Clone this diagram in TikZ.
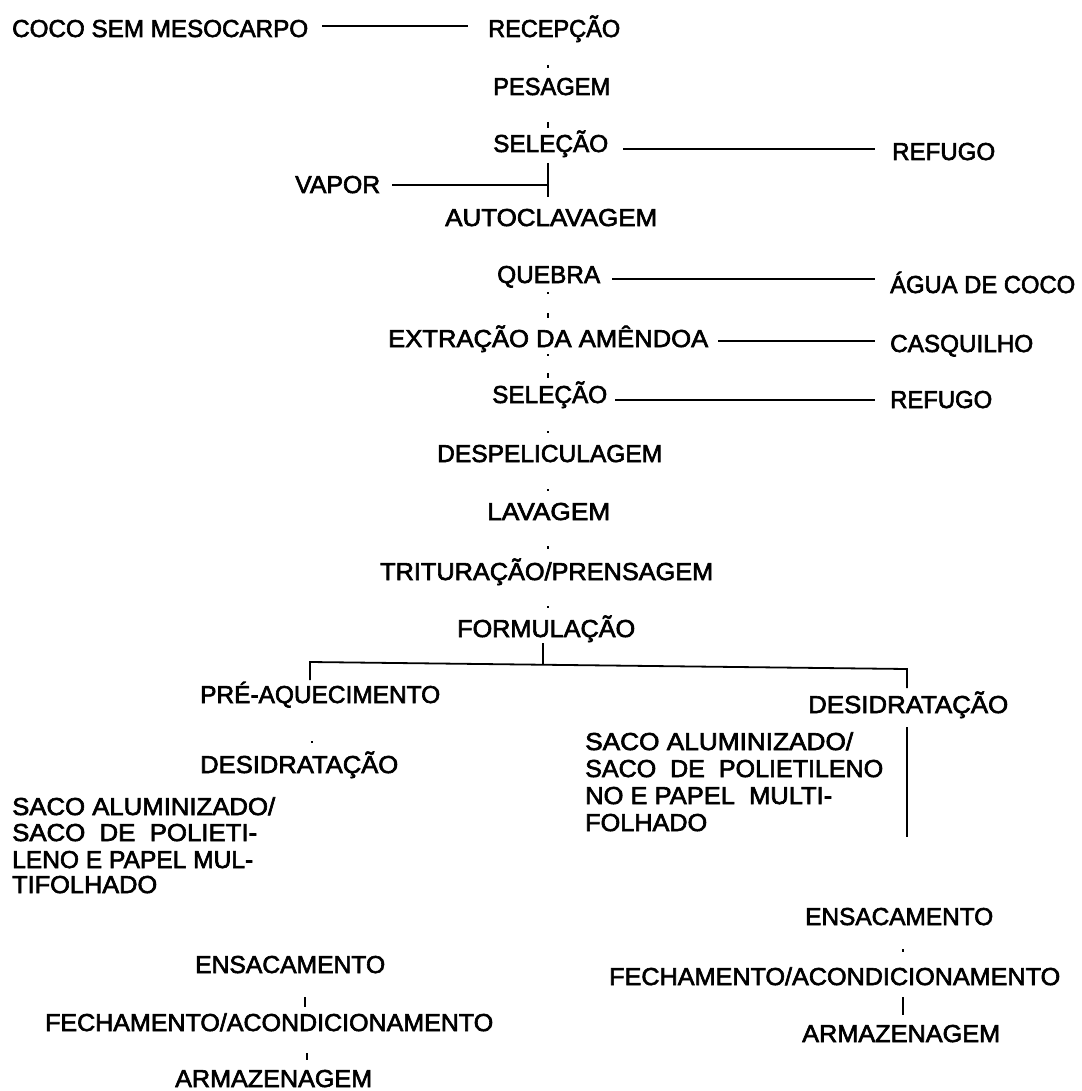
\documentclass[tikz,border=0pt]{standalone}
\usepackage{fontspec}
\setmainfont{Liberation Sans}[FakeBold=2.5]
\usepackage{graphicx}
\newcommand\W[2]{\resizebox{#1pt}{\height}{#2}}
\begin{document}
\begin{tikzpicture}[x=1pt,y=-1pt,
  lbl/.style={inner sep=0pt, anchor=base west, font=\fontsize{24.5}{27}\selectfont},
  ln/.style={line width=1.8pt},
  tk/.style={line width=1.6pt},
  bar/.style={line width=2.5pt}]
\useasboundingbox[fill=white] (0,0) rectangle (1081,1091);
% main column
\node[lbl] (coco)  at (12,37)   {\W{296}{COCO SEM MESOCARPO}};
\node[lbl] (recep) at (488,37)  {\W{132}{RECEPÇÃO}};
\node[lbl] (pes)   at (493,95)  {\W{117}{PESAGEM}};
\node[lbl] (sel1)  at (493,152) {\W{115}{SELEÇÃO}};
\node[lbl] (ref1)  at (892,160) {\W{103}{REFUGO}};
\node[lbl] (vapor) at (295,193) {\W{85}{VAPOR}};
\node[lbl] (auto)  at (445,226) {\W{212}{AUTOCLAVAGEM}};
\node[lbl] (queb)  at (497,283) {\W{103}{QUEBRA}};
\node[lbl] (agua)  at (890,293) {\W{185}{ÁGUA DE COCO}};
\node[lbl] (extr)  at (388,347) {\W{320}{EXTRAÇÃO DA AMÊNDOA}};
\node[lbl] (casq)  at (890,352) {\W{143}{CASQUILHO}};
\node[lbl] (sel2)  at (492,403) {\W{115}{SELEÇÃO}};
\node[lbl] (ref2)  at (890,408) {\W{102}{REFUGO}};
\node[lbl] (desp)  at (437,462) {\W{225}{DESPELICULAGEM}};
\node[lbl] (lav)   at (487,520) {\W{123}{LAVAGEM}};
\node[lbl] (trit)  at (380,580) {\W{333}{TRITURAÇÃO/PRENSAGEM}};
\node[lbl] (form)  at (457,637) {\W{178}{FORMULAÇÃO}};
% left branch
\node[lbl] (preaq) at (200,703) {\W{240}{PRÉ-AQUECIMENTO}};
\node[lbl] (desL)  at (200,773) {\W{198}{DESIDRATAÇÃO}};
\node[lbl] (sacoL1) at (12,815) {\W{263}{SACO ALUMINIZADO/}};
\node[lbl] (sacoL2) at (12,841) {\W{245}{SACO\ \ DE\ \ POLIETI-}};
\node[lbl] (sacoL3) at (12,868) {\W{241}{LENO E PAPEL MUL-}};
\node[lbl] (sacoL4) at (12,893) {\W{145}{TIFOLHADO}};
\node[lbl] (ensL)  at (195,973) {\W{190}{ENSACAMENTO}};
\node[lbl] (fechL) at (45,1031) {\W{448}{FECHAMENTO/ACONDICIONAMENTO}};
\node[lbl] (armL)  at (175,1087) {\W{197}{ARMAZENAGEM}};
% right branch
\node[lbl] (desR)  at (808,713) {\W{200}{DESIDRATAÇÃO}};
\node[lbl] (sacoR1) at (585,750) {\W{268}{SACO ALUMINIZADO/}};
\node[lbl] (sacoR2) at (585,777) {\W{298}{SACO\ \ DE\ \ POLIETILENO}};
\node[lbl] (sacoR3) at (585,804) {\W{247}{NO E PAPEL\ \ MULTI-}};
\node[lbl] (sacoR4) at (585,831) {\W{122}{FOLHADO}};
\node[lbl] (ensR)  at (805,925) {\W{188}{ENSACAMENTO}};
\node[lbl] (fechR) at (609,985) {\W{451}{FECHAMENTO/ACONDICIONAMENTO}};
\node[lbl] (armR)  at (802,1042) {\W{198}{ARMAZENAGEM}};
% horizontal connectors
\draw[ln] ([shift={(14,-11)}]coco.base east) -- ([shift={(-20,-11)}]recep.base west);
\draw[ln] ([shift={(15,-3)}]sel1.base east) -- ([shift={(-17,-11)}]ref1.base west);
\draw[ln] ([shift={(-3,-63)}]auto.base) -- ([shift={(-3,-29)}]auto.base);
\draw[ln] ([shift={(12,-8)}]vapor.base east) -- ([shift={(-3,-41)}]auto.base);
\draw[ln] ([shift={(12,-4)}]queb.base east) -- ([shift={(-15,-14)}]agua.base west);
\draw[ln] ([shift={(10,-6)}]extr.base east) -- ([shift={(-15,-11)}]casq.base west);
\draw[ln] ([shift={(8,-3)}]sel2.base east) -- ([shift={(-15,-8)}]ref2.base west);
% bracket from FORMULACAO
\draw[ln] ([shift={(-3,6)}]form.base) -- ([shift={(-3,28)}]form.base);
\draw[ln] ([shift={(110,-23)}]preaq.base west) -- ++(0,-18) -- ([shift={(99,-44)}]desR.base west) -- ++(0,19);
% right vertical beside packaging text
\draw[ln] ([shift={(322,-23)}]sacoR1.base west) -- ([shift={(322,6)}]sacoR4.base west);
% faint remnants of the vertical flow
\draw[tk] ([shift={(-6,28)}]recep.base) -- ([shift={(-6,31)}]recep.base);
\draw[tk] ([shift={(-3.5,27)}]pes.base) -- ([shift={(-3.5,33)}]pes.base);
\draw[tk] ([shift={(-0.5,9)}]queb.base) -- ([shift={(-0.5,11)}]queb.base);
\draw[tk] ([shift={(-0.5,30)}]queb.base) -- ([shift={(-0.5,35)}]queb.base);
\draw[tk] ([shift={(0,7)}]extr.base) -- ([shift={(0,9)}]extr.base);
\draw[tk] ([shift={(0,26)}]extr.base) -- ([shift={(0,31)}]extr.base);
\draw[tk] ([shift={(-1.5,28)}]sel2.base) -- ([shift={(-1.5,30)}]sel2.base);
\draw[tk] ([shift={(-1.5,27)}]desp.base) -- ([shift={(-1.5,29)}]desp.base);
\draw[tk] ([shift={(-0.5,26)}]lav.base) -- ([shift={(-0.5,29)}]lav.base);
\draw[tk] ([shift={(1.5,26)}]trit.base) -- ([shift={(1.5,28)}]trit.base);
\draw[tk] ([shift={(-8,38)}]preaq.base) -- ([shift={(-8,40)}]preaq.base);
\draw[tk] ([shift={(4,24)}]ensR.base) -- ([shift={(4,27)}]ensR.base);
\draw[bar] ([shift={(68.5,12)}]fechR.base) -- ([shift={(68.5,30)}]fechR.base);
\draw[tk] ([shift={(15,24)}]ensL.base) -- ([shift={(15,34)}]ensL.base);
\draw[tk] ([shift={(38,22)}]fechL.base) -- ([shift={(38,29)}]fechL.base);
\end{tikzpicture}
\end{document}
